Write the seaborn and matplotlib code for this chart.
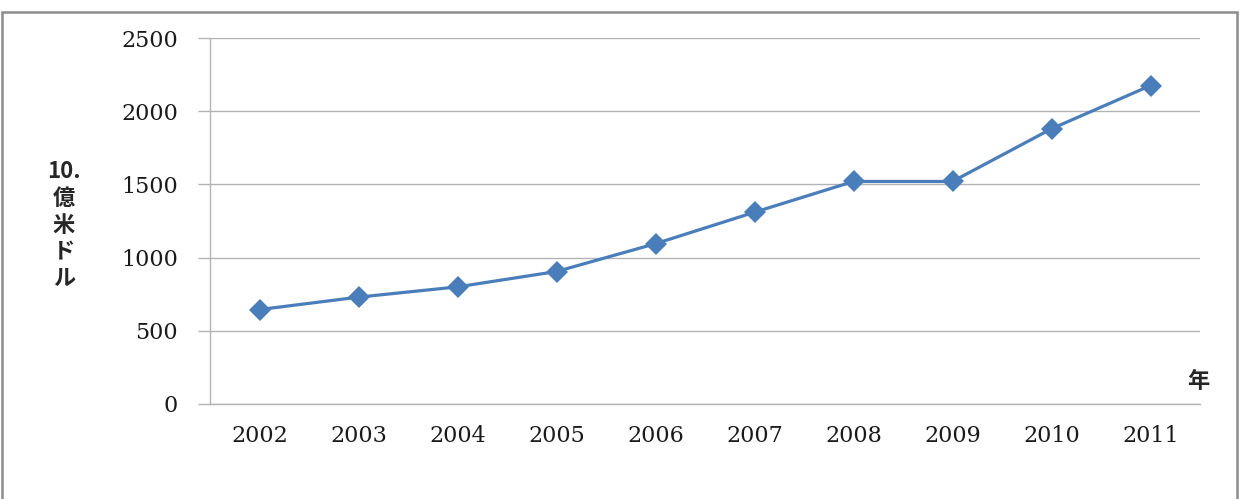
import matplotlib
matplotlib.use("Agg")
import matplotlib.pyplot as plt
import matplotlib.patches as patches
import pandas as pd
import seaborn as sns

years = ["2002", "2003", "2004", "2005", "2006", "2007", "2008", "2009", "2010", "2011"]
values = [645, 730, 800, 905, 1095, 1310, 1520, 1520, 1880, 2175]
y_ticks = [0, 500, 1000, 1500, 2000, 2500]
y_label = "10.\n億\n米\nド\nル"
x_label = "年"

LINE_COLOR = "#4A7EBB"
GRID_COLOR = "#B3B3B3"


def main() -> None:
    sns.set_style("white")
    plt.rcParams["font.family"] = ["DejaVu Serif", "Noto Sans CJK JP"]

    df = pd.DataFrame({"year": years, "value": values})

    fig = plt.figure(figsize=(12.46, 4.99), dpi=100)
    ax = fig.add_axes([210 / 1246, 1 - 404 / 499, (1200 - 210) / 1246, (404 - 38) / 499])

    sns.lineplot(
        data=df,
        x="year",
        y="value",
        sort=False,
        color=LINE_COLOR,
        linewidth=2.3,
        marker="D",
        markersize=11.5,
        markeredgewidth=0,
        ax=ax,
    )

    ax.set_xlim(-0.5, len(years) - 0.5)
    ax.set_ylim(0, 2500)
    ax.set_yticks(y_ticks)
    ax.set_yticklabels([str(t) for t in y_ticks], fontsize=16, color="#1A1A1A")
    ax.set_xticks(range(len(years)))
    ax.set_xticklabels(years, fontsize=16, color="#1A1A1A")
    ax.set_xticks([i - 0.5 for i in range(len(years) + 1)], minor=True)
    ax.tick_params(axis="x", which="major", length=0, pad=15)
    ax.tick_params(axis="x", which="minor", length=6, width=1, color=GRID_COLOR, direction="out")
    ax.tick_params(axis="y", which="major", length=9, width=1, color=GRID_COLOR, direction="out", pad=14, left=True)
    ax.set_xlabel("")
    ax.set_ylabel("")

    ax.grid(axis="y", color=GRID_COLOR, linewidth=1)
    ax.set_axisbelow(True)
    for side in ["top", "right"]:
        ax.spines[side].set_visible(False)
    for side in ["left", "bottom"]:
        ax.spines[side].set_color(GRID_COLOR)
        ax.spines[side].set_linewidth(1)

    fig.text(64 / 1246, 1 - 225 / 499, y_label, ha="center", va="center", fontsize=16,
             fontweight="bold", linespacing=1.2, family=["Noto Sans CJK JP", "DejaVu Sans"])
    fig.text(1198 / 1246, 1 - 381 / 499, x_label, ha="center", va="center", fontsize=16,
             fontweight="bold", family=["Noto Sans CJK JP", "DejaVu Sans"])

    border = patches.Rectangle(
        (2 / 1246, -0.02), (1237 - 2) / 1246, (499 - 12) / 499 + 0.02,
        transform=fig.transFigure, fill=False, edgecolor="#8C8C8C", linewidth=1.8,
    )
    fig.patches.append(border)

    fig.savefig("out.png", dpi=100)


if __name__ == "__main__":
    main()
